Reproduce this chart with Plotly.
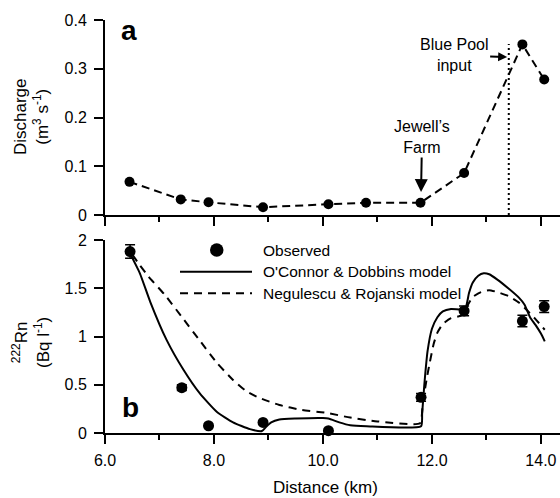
import plotly.graph_objects as go

# ---- data ----
dist_q = [6.45, 7.39, 7.90, 8.90, 10.10, 10.79, 11.79, 12.59, 13.66, 14.06]
discharge = [0.068, 0.032, 0.026, 0.016, 0.022, 0.025, 0.025, 0.086, 0.350, 0.278]

dist_rn = [6.46, 7.41, 7.90, 8.90, 10.10, 11.80, 12.59, 13.66, 14.06]
rn_obs = [1.88, 0.47, 0.075, 0.11, 0.024, 0.37, 1.265, 1.16, 1.31]
rn_err = [0.07, 0.03, 0.0, 0.0, 0.0, 0.04, 0.05, 0.06, 0.06]

oc_x = [6.46, 6.64, 6.83, 7.13, 7.44, 7.74, 8.05, 8.35, 8.66, 8.88, 8.95, 9.05, 9.2, 9.5, 10.0, 10.1,
        10.3, 10.5, 10.8, 11.8, 11.82, 11.86, 11.92, 12.0, 12.1, 12.2, 12.35, 12.55, 12.62, 12.68,
        12.75, 12.85, 12.95, 13.05, 13.2, 13.4, 13.6, 13.7, 13.8, 13.9, 14.0, 14.07]
oc_y = [1.86, 1.655, 1.36, 0.965, 0.655, 0.41, 0.22, 0.11, 0.04, 0.02, 0.06, 0.11, 0.14, 0.15, 0.155, 0.15,
        0.11, 0.08, 0.07, 0.07, 0.2, 0.5, 0.85, 1.08, 1.2, 1.26, 1.285, 1.28, 1.3, 1.45,
        1.56, 1.63, 1.655, 1.645, 1.59, 1.5, 1.4, 1.33, 1.2, 1.12, 1.03, 0.95]

nr_x = [6.5, 6.6, 6.8, 7.1, 7.4, 7.75, 8.05, 8.35, 8.6, 8.85, 9.2, 9.6, 10.05, 10.5, 11.0, 11.78,
        11.83, 11.9, 11.96, 12.03, 12.1, 12.2, 12.35, 12.55, 12.65, 12.75, 12.9, 13.05, 13.2, 13.4,
        13.6, 13.75, 13.9, 14.07]
nr_y = [1.85, 1.77, 1.62, 1.43, 1.21, 0.95, 0.73, 0.55, 0.43, 0.36, 0.29, 0.24, 0.21, 0.16, 0.12, 0.10,
        0.3, 0.55, 0.73, 0.92, 1.04, 1.13, 1.19, 1.22, 1.32, 1.41, 1.46, 1.48, 1.46, 1.42,
        1.35, 1.27, 1.18, 1.07]

blue_pool_x = 13.41
jewell_x = 11.8

legend_labels = ["Observed", "O'Connor & Dobbins model", "Negulescu & Rojanski model"]

FONT = "Liberation Sans, Arial, sans-serif"
W, H = 560, 498
ML, MR, MT, MB = 105, 0, 20, 65
PW, PH = W - ML - MR, H - MT - MB


def px(x):
    return (x - ML) / PW


def py(y):
    return (H - MB - y) / PH


fig = go.Figure()

# panel a
fig.add_trace(go.Scatter(x=dist_q, y=discharge, mode="lines+markers",
                         line=dict(color="black", width=2, dash="8px,5px"),
                         marker=dict(color="black", size=10),
                         xaxis="x", yaxis="y", cliponaxis=False, showlegend=False))

# panel b
fig.add_trace(go.Scatter(x=oc_x, y=oc_y, mode="lines",
                         line=dict(color="black", width=2, shape="spline", smoothing=0.5),
                         xaxis="x2", yaxis="y2", showlegend=False))
fig.add_trace(go.Scatter(x=nr_x, y=nr_y, mode="lines",
                         line=dict(color="black", width=2, dash="8px,6px", shape="spline", smoothing=0.5),
                         xaxis="x2", yaxis="y2", showlegend=False))
fig.add_trace(go.Scatter(x=dist_rn, y=rn_obs, mode="markers",
                         marker=dict(color="black", size=11),
                         error_y=dict(type="data", array=rn_err, color="black", thickness=1.5, width=5),
                         xaxis="x2", yaxis="y2", cliponaxis=False, showlegend=False))

xcommon = dict(range=[6, 14.35], showline=True, linecolor="black", linewidth=2,
               ticks="outside", ticklen=9, tickwidth=2, tickcolor="black",
               dtick=2, tick0=6, showgrid=False, zeroline=False, ticklabelstandoff=3,
               minor=dict(ticks="outside", ticklen=5, tickwidth=2, tickcolor="black", dtick=1, showgrid=False),
               tickfont=dict(family=FONT, size=16, color="black"))
ycommon = dict(showline=True, linecolor="black", linewidth=2, ticks="outside", ticklen=9,
               tickwidth=2, tickcolor="black", showgrid=False, zeroline=False,
               ticklabelstandoff=4,
               tickfont=dict(family=FONT, size=16, color="black"))

fig.update_layout(
    width=W, height=H, margin=dict(l=ML, r=MR, t=MT, b=MB),
    paper_bgcolor="white", plot_bgcolor="white",
    font=dict(family=FONT, size=15, color="black"),
    xaxis=dict(**xcommon, anchor="y", domain=[0, 1], showticklabels=False),
    yaxis=dict(**ycommon, anchor="x", domain=[py(215), 1], range=[0, 0.4],
               tickvals=[0, 0.1, 0.2, 0.3, 0.4], ticktext=["0", "0.1", "0.2", "0.3", "0.4"]),
    xaxis2=dict(**xcommon, anchor="y2", domain=[0, 1], matches="x", tickformat=".1f"),
    yaxis2=dict(**ycommon, anchor="x2", domain=[0, py(240)], range=[0, 2],
                tickvals=[0, 0.5, 1, 1.5, 2], ticktext=["0", "0.5", "1", "1.5", "2"]),
)

# dotted vertical line (Blue Pool input)
fig.add_shape(type="line", xref="x", yref="y", x0=blue_pool_x, x1=blue_pool_x, y0=0, y1=0.351,
              line=dict(color="black", width=2, dash="2px,3px"))

ann = []
ann.append(dict(text="<b>a</b>", xref="paper", yref="paper", x=px(129), y=py(31), showarrow=False,
                font=dict(size=28, family=FONT), xanchor="center", yanchor="middle"))
ann.append(dict(text="<b>b</b>", xref="paper", yref="paper", x=px(130), y=py(407), showarrow=False,
                font=dict(size=28, family=FONT), xanchor="center", yanchor="middle"))
ann.append(dict(text="Jewell\u2019s<br>Farm", xref="x", yref="y", x=jewell_x, y=0.047,
                ax=1, ay=-55, showarrow=True, arrowhead=2, arrowsize=1.3, arrowwidth=2,
                arrowcolor="black", font=dict(size=16, family=FONT)))
ann.append(dict(text="Blue Pool<br>input", xref="x", yref="y", x=13.38, y=0.324,
                ax=-53, ay=-2, showarrow=True, arrowhead=2, arrowsize=0.9, arrowwidth=2,
                arrowcolor="black", font=dict(size=16, family=FONT)))
ann.append(dict(text="Discharge<br>(m<sup>3</sup> s<sup>-1</sup>)", xref="paper", yref="paper",
                x=px(31), y=py(117), textangle=-90, showarrow=False, xanchor="center", yanchor="middle",
                font=dict(size=17, family=FONT)))
ann.append(dict(text="<sup>222</sup>Rn<br>(Bq l<sup>-1</sup>)", xref="paper", yref="paper",
                x=px(31), y=py(343), textangle=-90, showarrow=False, xanchor="center", yanchor="middle",
                font=dict(size=17, family=FONT)))
ann.append(dict(text="Distance (km)", xref="paper", yref="paper", x=px(325), y=py(487),
                xanchor="center", yanchor="middle",
                showarrow=False, font=dict(size=17, family=FONT)))

# custom legend
for i, lab in enumerate(legend_labels):
    yy = [250, 271.7, 293.3][i]
    ann.append(dict(text=lab, xref="paper", yref="paper", x=px(261), y=py(yy), xanchor="left",
                    yanchor="middle", showarrow=False, font=dict(size=15.5, family=FONT)))
fig.add_shape(type="circle", xref="paper", yref="paper", x0=px(210), x1=px(223.5),
              y0=py(256.7), y1=py(243.3), fillcolor="black", line=dict(color="black", width=0))
fig.add_shape(type="line", xref="paper", yref="paper", x0=px(180), x1=px(252), y0=py(271.7), y1=py(271.7),
              line=dict(color="black", width=2))
fig.add_shape(type="line", xref="paper", yref="paper", x0=px(180), x1=px(252), y0=py(293.3), y1=py(293.3),
              line=dict(color="black", width=2, dash="8px,6px"))

fig.update_layout(annotations=ann)
fig.write_html("out.html")
